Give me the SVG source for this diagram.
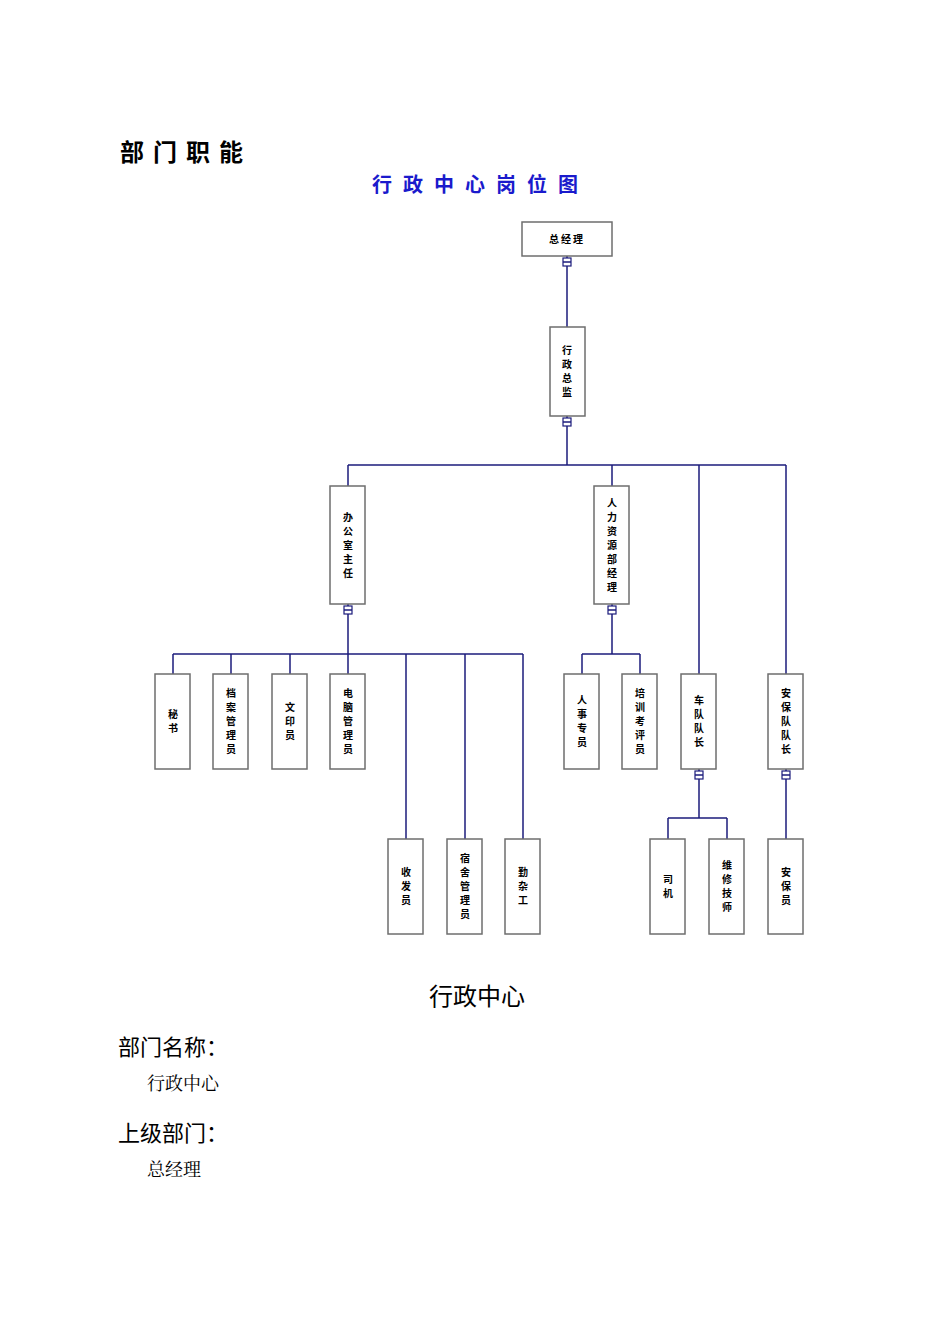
<svg xmlns="http://www.w3.org/2000/svg" width="950" height="1344" viewBox="0 0 950 1344">
<style>
.b{fill:#fff;stroke:#6e6e6e;stroke-width:1.5}
.v{font-family:"Noto Sans CJK SC",sans-serif;font-size:10px;letter-spacing:4px;writing-mode:vertical-rl;text-anchor:middle;fill:#000;font-weight:bold}
.c{fill:none;stroke:#1c1c7c;stroke-width:1.5}
.k{fill:#fff;stroke:#1c1c7c;stroke-width:1.2}
.t{font-family:"Noto Sans CJK SC",sans-serif;fill:#000}
</style>
<rect width="950" height="1344" fill="#fff"/>
<text class="t" x="120" y="161" font-size="24" font-weight="bold" letter-spacing="9">部门职能</text>
<text x="372" y="192" font-family="Noto Sans CJK SC,sans-serif" font-size="20" font-weight="bold" fill="#1a1acc" letter-spacing="11">行政中心岗位图</text>
<g id="connectors">
<path class="c" d="M567 256V327M567 416V465M348 465H786M348 465V486M612 465V486M699 465V674M786 465V674M348 604V654M173 654H523M173 654V674M231 654V674M290 654V674M348 654V674M406 654V839M465 654V839M523 654V839M612 604V654M582 654H640M582 654V674M640 654V674M699 769V818M668 818H727M668 818V839M727 818V839M786 769V839"/>
<g>
<rect class="k" x="563" y="258" width="8" height="8"/><line class="c" x1="563" y1="262" x2="571" y2="262" stroke-width="1"/>
<rect class="k" x="563" y="418" width="8" height="8"/><line class="c" x1="563" y1="422" x2="571" y2="422" stroke-width="1"/>
<rect class="k" x="344" y="606" width="8" height="8"/><line class="c" x1="344" y1="610" x2="352" y2="610" stroke-width="1"/>
<rect class="k" x="608" y="606" width="8" height="8"/><line class="c" x1="608" y1="610" x2="616" y2="610" stroke-width="1"/>
<rect class="k" x="695" y="771" width="8" height="8"/><line class="c" x1="695" y1="775" x2="703" y2="775" stroke-width="1"/>
<rect class="k" x="782" y="771" width="8" height="8"/><line class="c" x1="782" y1="775" x2="790" y2="775" stroke-width="1"/>
</g>
</g>
<g id="n0"><rect class="b" x="522" y="222" width="90" height="34"/><text class="t" x="567" y="243" font-size="10" font-weight="bold" text-anchor="middle" letter-spacing="2">总经理</text></g>
<g id="n1"><rect class="b" x="550" y="327" width="35" height="89"/><text class="v" x="567" y="373">行政总监</text></g>
<g id="n2"><rect class="b" x="330" y="486" width="35" height="118"/><text class="v" x="348" y="547">办公室主任</text></g>
<g id="n3"><rect class="b" x="594" y="486" width="35" height="118"/><text class="v" x="612" y="547">人力资源部经理</text></g>
<g id="n4"><rect class="b" x="155" y="674" width="35" height="95"/><text class="v" x="173" y="723">秘书</text></g>
<g id="n5"><rect class="b" x="213" y="674" width="35" height="95"/><text class="v" x="231" y="723">档案管理员</text></g>
<g id="n6"><rect class="b" x="272" y="674" width="35" height="95"/><text class="v" x="290" y="723">文印员</text></g>
<g id="n7"><rect class="b" x="330" y="674" width="35" height="95"/><text class="v" x="348" y="723">电脑管理员</text></g>
<g id="n8"><rect class="b" x="564" y="674" width="35" height="95"/><text class="v" x="582" y="723">人事专员</text></g>
<g id="n9"><rect class="b" x="622" y="674" width="35" height="95"/><text class="v" x="640" y="723">培训考评员</text></g>
<g id="n10"><rect class="b" x="681" y="674" width="35" height="95"/><text class="v" x="699" y="723">车队队长</text></g>
<g id="n11"><rect class="b" x="768" y="674" width="35" height="95"/><text class="v" x="786" y="723">安保队队长</text></g>
<g id="n12"><rect class="b" x="388" y="839" width="35" height="95"/><text class="v" x="406" y="888">收发员</text></g>
<g id="n13"><rect class="b" x="447" y="839" width="35" height="95"/><text class="v" x="465" y="888">宿舍管理员</text></g>
<g id="n14"><rect class="b" x="505" y="839" width="35" height="95"/><text class="v" x="523" y="888">勤杂工</text></g>
<g id="n15"><rect class="b" x="650" y="839" width="35" height="95"/><text class="v" x="668" y="888">司机</text></g>
<g id="n16"><rect class="b" x="709" y="839" width="35" height="95"/><text class="v" x="727" y="888">维修技师</text></g>
<g id="n17"><rect class="b" x="768" y="839" width="35" height="95"/><text class="v" x="786" y="888">安保员</text></g>
<text class="t" x="477" y="1005" font-size="24" text-anchor="middle">行政中心</text>
<text class="t" x="118" y="1055" font-size="22">部门名称：</text>
<text x="147" y="1090" font-family="Noto Serif CJK SC,Noto Sans CJK SC,serif" font-size="18">行政中心</text>
<text class="t" x="118" y="1141" font-size="22">上级部门：</text>
<text x="147" y="1176" font-family="Noto Serif CJK SC,Noto Sans CJK SC,serif" font-size="18">总经理</text>
</svg>
